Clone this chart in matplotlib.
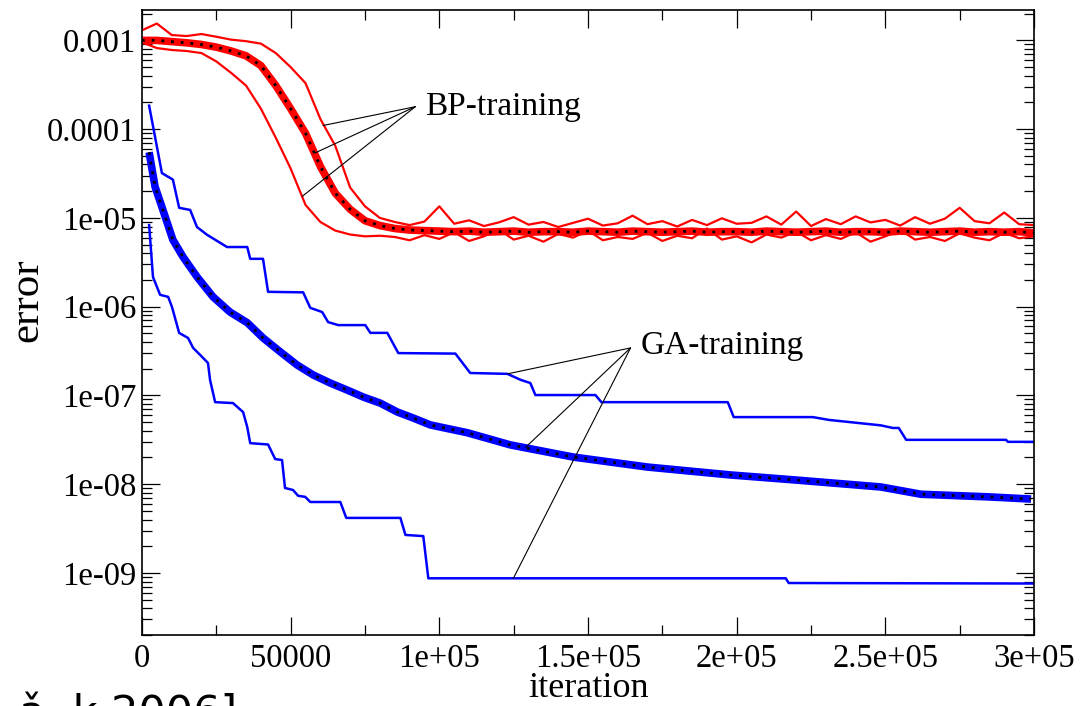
import matplotlib
matplotlib.use("Agg")
from matplotlib import pyplot as plt
from matplotlib.ticker import FixedLocator, FixedFormatter, MultipleLocator, LogLocator, NullFormatter

plt.rcParams['font.family'] = ['Liberation Serif', 'DejaVu Serif']

# GA training: three runs (upper, typical, lower), error vs iteration
ga_top_x = [2400, 6700, 10400, 12500, 16200, 18500, 21900, 28600, 35400, 36400,
            40700, 42400, 54200, 56600, 60600, 62600, 66000, 75100, 76800, 82500,
            86200, 105400, 110400, 122900, 127300, 130600, 132300, 152500, 154500, 197000,
            199000, 225600, 231000, 248500, 252500, 254500, 257000, 290600, 291200, 299700]
ga_top_y = [1.84e-4, 3.2e-5, 2.7e-5, 1.3e-5, 1.23e-5, 7.9e-6, 6.45e-6, 4.7e-6, 4.7e-6, 3.46e-6,
            3.46e-6, 1.47e-6, 1.45e-6, 9.7e-7, 8.7e-7, 6.7e-7, 6.2e-7, 6.2e-7, 5.07e-7, 5.07e-7,
            3.0e-7, 2.96e-7, 1.79e-7, 1.75e-7, 1.5e-7, 1.38e-7, 1.01e-7, 1.01e-7, 8.4e-8, 8.4e-8,
            5.7e-8, 5.7e-8, 5.3e-8, 4.6e-8, 4.3e-8, 4.3e-8, 3.16e-8, 3.16e-8, 3.0e-8, 3.0e-8]

ga_mid_x = [2400, 4400, 6700, 10400, 13800, 18500, 23900, 29600, 35400, 40700,
            46500, 52200, 57600, 63300, 69000, 74400, 80100, 85900, 91200, 97000,
            109400, 123900, 145100, 170000, 198000, 220500, 248500, 262000, 284500, 299000]
ga_mid_y = [5.5e-5, 2.24e-5, 1.33e-5, 5.66e-6, 3.64e-6, 2.17e-6, 1.29e-6, 8.7e-7, 6.6e-7, 4.45e-7,
            3.1e-7, 2.2e-7, 1.7e-7, 1.38e-7, 1.15e-7, 9.6e-8, 8.2e-8, 6.5e-8, 5.57e-8, 4.65e-8,
            3.8e-8, 2.77e-8, 2.02e-8, 1.56e-8, 1.27e-8, 1.11e-8, 9.3e-9, 7.7e-9, 7.2e-9, 6.8e-9]

ga_low_x = [2400, 3700, 6100, 8800, 10100, 12500, 15500, 17200, 20200, 22200,
            22900, 24600, 30600, 34000, 35400, 36400, 42400, 44800, 47100, 48100,
            50800, 52500, 54900, 56600, 66700, 68700, 86900, 88600, 94600, 96300,
            216500, 217500, 299700]
ga_low_y = [8.3e-6, 2.16e-6, 1.36e-6, 1.29e-6, 9.9e-7, 5.06e-7, 4.44e-7, 3.43e-7, 2.72e-7, 2.32e-7,
            1.49e-7, 8.4e-8, 8.2e-8, 6.5e-8, 4.4e-8, 2.9e-8, 2.8e-8, 1.92e-8, 1.87e-8, 9.06e-9,
            8.6e-9, 7.4e-9, 7.2e-9, 6.3e-9, 6.3e-9, 4.17e-9, 4.17e-9, 2.68e-9, 2.6e-9, 8.7e-10,
            8.7e-10, 7.7e-10, 7.6e-10]

# BP training: three runs sampled every 5000 iterations
bp_x = list(range(0, 300001, 5000))
bp_top_y = [1.3e-3, 1.55e-3, 1.15e-3, 1.12e-3, 1.18e-3, 1.1e-3, 1.02e-3, 0.98e-3, 0.92e-3, 0.72e-3,
            0.5e-3, 0.33e-3, 1.3e-4, 6.5e-5, 2.2e-5, 1.35e-5, 1.0e-5,
            9.0e-6, 8.3e-6, 9.1e-6, 13.5e-6, 8.6e-6, 9.4e-6, 8.1e-6, 8.9e-6, 10.2e-6, 8.4e-6,
            9.0e-6, 7.9e-6, 8.8e-6, 9.8e-6, 8.2e-6, 8.7e-6, 10.6e-6, 8.5e-6, 9.2e-6, 8.0e-6,
            9.5e-6, 8.3e-6, 9.9e-6, 8.6e-6, 8.8e-6, 10.4e-6, 8.4e-6, 11.8e-6, 8.1e-6, 9.7e-6,
            8.5e-6, 10.4e-6, 8.9e-6, 9.5e-6, 8.2e-6, 10.2e-6, 8.6e-6, 9.8e-6, 13.0e-6, 9.2e-6,
            8.7e-6, 11.5e-6, 8.5e-6, 8.3e-6]
bp_mid_y = [1.0e-3, 1.0e-3, 0.97e-3, 0.94e-3, 0.9e-3, 0.84e-3, 0.76e-3, 0.67e-3, 0.52e-3, 0.31e-3,
            1.7e-4, 9e-5, 3.8e-5, 1.9e-5, 1.25e-5, 9.3e-6, 8.2e-6,
            7.6e-6, 7.3e-6, 7.2e-6, 7.1e-6,
            7.0e-6, 7.1e-6, 6.9e-6, 7.0e-6, 7.1e-6, 6.9e-6, 7.0e-6, 7.0e-6, 6.9e-6, 7.1e-6,
            7.0e-6, 6.9e-6, 7.1e-6, 7.0e-6, 6.9e-6, 7.0e-6, 7.1e-6, 6.9e-6, 7.0e-6, 7.0e-6,
            6.9e-6, 7.1e-6, 7.0e-6, 6.9e-6, 7.0e-6, 7.1e-6, 6.9e-6, 7.0e-6, 7.0e-6, 6.9e-6,
            7.1e-6, 7.0e-6, 6.9e-6, 7.0e-6, 7.1e-6, 6.9e-6, 7.0e-6, 6.9e-6, 7.0e-6, 6.8e-6]
bp_low_y = [0.95e-3, 0.82e-3, 0.78e-3, 0.76e-3, 0.72e-3, 0.58e-3, 0.43e-3, 0.31e-3, 1.7e-4, 8e-5,
            3.6e-5, 1.4e-5, 9e-6, 7.2e-6, 6.5e-6, 6.2e-6, 6.3e-6,
            6.1e-6, 5.6e-6, 6.4e-6, 5.8e-6, 6.9e-6, 5.5e-6, 6.2e-6, 7.4e-6, 5.7e-6, 6.3e-6,
            5.4e-6, 6.6e-6, 6.0e-6, 7.2e-6, 5.6e-6, 6.1e-6, 5.8e-6, 6.8e-6, 5.5e-6, 6.3e-6,
            5.9e-6, 7.6e-6, 5.7e-6, 6.2e-6, 5.3e-6, 6.5e-6, 6.0e-6, 7.0e-6, 5.6e-6, 6.4e-6,
            5.8e-6, 6.9e-6, 5.4e-6, 6.2e-6, 7.3e-6, 5.7e-6, 6.1e-6, 5.5e-6, 6.7e-6, 6.0e-6,
            5.6e-6, 6.8e-6, 5.9e-6, 6.2e-6]

x_ticks = [0, 50000, 100000, 150000, 200000, 250000, 300000]
x_labels = ['0', '50000', '1e+05', '1.5e+05', '2e+05', '2.5e+05', '3e+05']
y_ticks = [1e-9, 1e-8, 1e-7, 1e-6, 1e-5, 1e-4, 1e-3]
y_labels = ['1e-09', '1e-08', '1e-07', '1e-06', '1e-05', '0.0001', '0.001']

# annotation pointers: apex and targets on the curves
bp_apex = (91900, 1.79e-4)
bp_targets = [(60900, 1.1e-4), (58200, 5.4e-5), (53900, 1.75e-5)]
ga_apex = (164300, 3.43e-7)
ga_targets = [(122900, 1.75e-7), (129000, 2.6e-8), (124900, 8.7e-10)]

fig = plt.figure(figsize=(10.88, 7.06), dpi=100)
ax = fig.add_axes([0.1305, 0.1006, 0.8199, 0.8852])

# BP runs
ax.plot(bp_x, bp_top_y, color='#ff0000', lw=1.6)
ax.plot(bp_x, bp_low_y, color='#ff0000', lw=1.6)
ax.plot(bp_x, bp_mid_y, color='#ff0000', lw=5.5, solid_capstyle='butt')
ax.plot(bp_x, bp_mid_y, color='black', lw=2.0, linestyle=(0, (1, 2.5)))

# GA runs
ax.plot(ga_top_x, ga_top_y, color='#0000ff', lw=1.8)
ax.plot(ga_low_x, ga_low_y, color='#0000ff', lw=1.8)
ax.plot(ga_mid_x, ga_mid_y, color='#0000ff', lw=5.5, solid_capstyle='butt')
ax.plot(ga_mid_x, ga_mid_y, color='black', lw=2.0, linestyle=(0, (1, 2.5)))

for t in bp_targets:
    ax.annotate('', xy=t, xytext=bp_apex,
                arrowprops=dict(arrowstyle='-', lw=0.8, color='black', shrinkA=0, shrinkB=0))
for t in ga_targets:
    ax.annotate('', xy=t, xytext=ga_apex,
                arrowprops=dict(arrowstyle='-', lw=0.8, color='black', shrinkA=0, shrinkB=0))
ax.text(95300, 1.8e-4, 'BP-training', fontsize=24, va='center', ha='left')
ax.text(167700, 3.6e-7, 'GA-training', fontsize=24, va='center', ha='left')

ax.set_yscale('log')
ax.set_xlim(0, 300000)
ax.set_ylim(2.0e-10, 2.2e-3)

ax.xaxis.set_major_locator(FixedLocator(x_ticks))
ax.xaxis.set_major_formatter(FixedFormatter(x_labels))
ax.xaxis.set_minor_locator(MultipleLocator(25000))
ax.yaxis.set_major_locator(FixedLocator(y_ticks))
ax.yaxis.set_major_formatter(FixedFormatter(y_labels))
ax.yaxis.set_minor_locator(LogLocator(base=10, subs=[2, 3, 4, 5, 6, 7, 8, 9], numticks=20))
ax.yaxis.set_minor_formatter(NullFormatter())

ax.tick_params(which='both', direction='in', top=True, right=True, width=0.9, color='black')
ax.tick_params(which='major', length=13, labelsize=23.5)
ax.tick_params(axis='x', which='major', pad=6)
ax.tick_params(axis='y', which='major', pad=4)
ax.tick_params(which='minor', length=7)
for s in ax.spines.values():
    s.set_linewidth(1.2)

ax.set_xlabel('iteration', fontsize=26, labelpad=-1.5)
ax.set_ylabel('error', fontsize=31)
ax.yaxis.set_label_coords(-0.107, 0.535)

# caption fragment cut off at the bottom edge
fig.text(19 / 1088, -0.028, 'ǎ  k 2006]', fontsize=31, family=['DejaVu Sans'], va='baseline', ha='left')

fig.savefig('out.png', dpi=100)
